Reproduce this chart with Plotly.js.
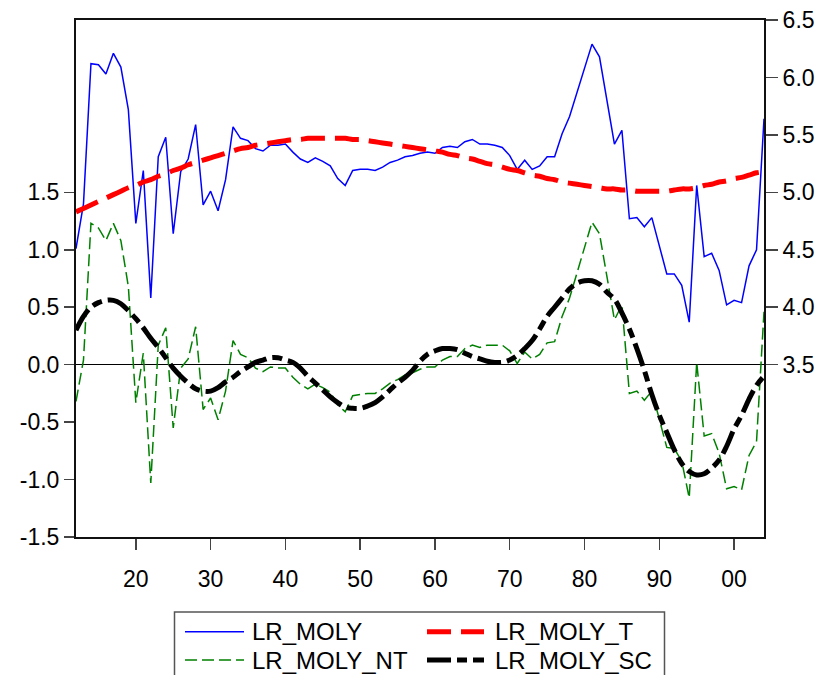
<!DOCTYPE html>
<html>
<head>
<meta charset="utf-8">
<script src="https://cdn.plot.ly/plotly-3.0.1.min.js"></script>
<style>html,body{margin:0;padding:0;background:#fff;}#chart{width:821px;height:675px;}</style>
</head>
<body>
<div id="chart"></div>
<script>
var years = [1912,1913,1914,1915,1916,1917,1918,1919,1920,1921,1922,1923,1924,1925,1926,1927,1928,1929,1930,1931,
  1932,1933,1934,1935,1936,1937,1938,1939,1940,1941,1942,1943,1944,1945,1946,1947,1948,1949,1950,1951,
  1952,1953,1954,1955,1956,1957,1958,1959,1960,1961,1962,1963,1964,1965,1966,1967,1968,1969,1970,1971,
  1972,1973,1974,1975,1976,1977,1978,1979,1980,1981,1982,1983,1984,1985,1986,1987,1988,1989,1990,1991,
  1992,1993,1994,1995,1996,1997,1998,1999,2000,2001,2002,2003,2004];

// LR_MOLY (right axis)
var lrMoly = [4.51,4.90,6.12,6.11,6.03,6.21,6.09,5.72,4.73,5.19,4.08,5.31,5.48,4.64,5.18,5.29,5.59,4.89,5.01,4.84,
  5.11,5.57,5.47,5.45,5.38,5.36,5.41,5.41,5.42,5.35,5.29,5.26,5.30,5.27,5.23,5.12,5.06,5.19,5.20,5.20,
  5.19,5.22,5.26,5.28,5.31,5.32,5.34,5.35,5.34,5.39,5.40,5.39,5.44,5.46,5.42,5.42,5.41,5.39,5.32,5.20,
  5.28,5.20,5.23,5.31,5.31,5.51,5.66,5.87,6.07,6.29,6.18,5.80,5.42,5.54,4.77,4.78,4.70,4.78,4.54,4.29,
  4.29,4.19,3.87,5.06,4.44,4.47,4.32,4.02,4.06,4.04,4.36,4.50,5.64];

// LR_MOLY_T (right axis)
var lrMolyT = [4.83,4.86,4.89,4.92,4.95,4.98,5.01,5.04,5.06,5.09,5.11,5.14,5.16,5.19,5.21,5.24,5.26,5.28,5.30,5.32,
  5.34,5.36,5.38,5.39,5.41,5.42,5.43,5.44,5.45,5.46,5.46,5.47,5.47,5.47,5.47,5.47,5.47,5.46,5.46,5.45,
  5.44,5.43,5.42,5.41,5.40,5.39,5.38,5.37,5.36,5.35,5.33,5.32,5.30,5.29,5.27,5.25,5.24,5.22,5.20,5.19,
  5.17,5.15,5.14,5.12,5.11,5.09,5.08,5.07,5.06,5.05,5.04,5.03,5.03,5.02,5.02,5.01,5.01,5.01,5.01,5.01,
  5.02,5.03,5.03,5.04,5.06,5.07,5.09,5.10,5.12,5.13,5.15,5.17,5.18];

// LR_MOLY_NT (left axis)
var lrMolyNT = [-0.32,0.04,1.23,1.19,1.08,1.23,1.08,0.68,-0.33,0.10,-1.03,0.17,0.32,-0.55,-0.03,0.05,0.33,-0.39,-0.29,-0.48,
  -0.23,0.21,0.09,0.06,-0.03,-0.06,-0.02,-0.03,-0.03,-0.11,-0.17,-0.21,-0.17,-0.20,-0.24,-0.35,-0.41,-0.27,-0.26,-0.25,
  -0.25,-0.21,-0.16,-0.13,-0.09,-0.07,-0.04,-0.02,-0.02,0.04,0.07,0.07,0.14,0.17,0.15,0.17,0.17,0.17,0.12,0.01,
  0.11,0.05,0.09,0.19,0.20,0.42,0.58,0.80,1.01,1.24,1.14,0.77,0.39,0.52,-0.25,-0.23,-0.31,-0.23,-0.47,-0.72,
  -0.73,-0.84,-1.16,0.02,-0.62,-0.60,-0.77,-1.08,-1.06,-1.09,-0.79,-0.67,0.46];

// LR_MOLY_SC (left axis)
var lrMolySC = [0.30,0.42,0.50,0.54,0.56,0.56,0.53,0.47,0.40,0.32,0.23,0.15,0.06,-0.03,-0.10,-0.16,-0.21,-0.23,-0.23,-0.20,
  -0.15,-0.11,-0.06,-0.02,0.02,0.04,0.06,0.06,0.04,0.02,-0.03,-0.10,-0.16,-0.22,-0.28,-0.33,-0.37,-0.38,-0.38,-0.36,
  -0.33,-0.28,-0.22,-0.16,-0.11,-0.05,0.03,0.09,0.12,0.14,0.14,0.13,0.10,0.07,0.05,0.03,0.02,0.02,0.04,0.08,
  0.14,0.21,0.31,0.42,0.50,0.58,0.66,0.71,0.73,0.73,0.70,0.63,0.57,0.45,0.31,0.14,-0.05,-0.26,-0.44,-0.59,
  -0.74,-0.86,-0.93,-0.96,-0.95,-0.90,-0.83,-0.71,-0.56,-0.44,-0.30,-0.18,-0.10];

var xTickVals = [1920,1930,1940,1950,1960,1970,1980,1990,2000];
var xTickText = ["20","30","40","50","60","70","80","90","00"];
var yLeftTickVals = [-1.5,-1.0,-0.5,0.0,0.5,1.0,1.5];
var yLeftTickText = ["-1.5","-1.0","-0.5","0.0","0.5","1.0","1.5"];
var yRightTickVals = [3.5,4.0,4.5,5.0,5.5,6.0,6.5];
var yRightTickText = ["3.5","4.0","4.5","5.0","5.5","6.0","6.5"];

var seriesNames = ["LR_MOLY","LR_MOLY_T","LR_MOLY_NT","LR_MOLY_SC"];
var seriesColors = ["#0000ff","#ff0000","#008000","#000000"];
var seriesDash = ["solid","24px,10px","12px,5px","24px,6px,10px,6px"];
var seriesWidth = [1.5,5,1.5,5];

var traces = [
  {x: years, y: lrMolyNT, yaxis: "y", name: seriesNames[2], mode: "lines",
   line: {color: seriesColors[2], width: seriesWidth[2], dash: seriesDash[2]}},
  {x: years, y: lrMolySC, yaxis: "y", name: seriesNames[3], mode: "lines",
   line: {color: seriesColors[3], width: seriesWidth[3], dash: seriesDash[3], shape: "spline"}},
  {x: years, y: lrMoly, yaxis: "y2", name: seriesNames[0], mode: "lines",
   line: {color: seriesColors[0], width: seriesWidth[0], dash: seriesDash[0]}},
  {x: years, y: lrMolyT, yaxis: "y2", name: seriesNames[1], mode: "lines",
   line: {color: seriesColors[1], width: seriesWidth[1], dash: seriesDash[1], shape: "spline"}}
];

var fontFam = "Liberation Sans, Arial, sans-serif";
var tickFont = {family: fontFam, size: 23, color: "#000"};

// custom legend (paper coordinates)
var W = 688, H = 517, L = 76, T = 20;
function px(x){ return (x - L) / W; }
function py(y){ return (T + H - y) / H; }

var legRows = [631.7, 631.7, 660, 660];
var legX0 = [185, 427, 185, 427];
var legX1 = [244, 484, 244, 484];
var legTx = [250, 493, 250, 493];
var legOrder = [0, 1, 2, 3];

var shapes = [
  {type: "rect", xref: "paper", yref: "paper", x0: px(174.5), x1: px(664.5), y0: py(690), y1: py(612),
   line: {color: "#555", width: 1.5}, fillcolor: "rgba(0,0,0,0)"}
];
var annotations = [];
for (var i = 0; i < 4; i++) {
  var k = legOrder[i];
  shapes.push({type: "line", xref: "paper", yref: "paper",
    x0: px(legX0[i]), x1: px(legX1[i]), y0: py(legRows[i]), y1: py(legRows[i]),
    line: {color: seriesColors[k], width: (seriesWidth[k] > 2 ? 5 : 1.5), dash: seriesDash[k]}});
  annotations.push({xref: "paper", yref: "paper", x: px(legTx[i]), y: py(legRows[i]),
    xanchor: "left", yanchor: "middle", showarrow: false, text: seriesNames[k],
    font: {family: fontFam, size: 24, color: "#000"}});
}

var layout = {
  width: 821, height: 675,
  margin: {l: 76, r: 57, t: 20, b: 138, pad: 0},
  paper_bgcolor: "#fff", plot_bgcolor: "#fff",
  showlegend: false,
  font: {family: fontFam, size: 23, color: "#000"},
  xaxis: {
    range: [1912, 2004], tickmode: "array", tickvals: xTickVals, ticktext: xTickText,
    showgrid: false, zeroline: false, showline: true, mirror: true, linecolor: "#111", linewidth: 2,
    ticks: "outside", ticklen: 11, tickwidth: 1.5, tickcolor: "#444", tickfont: tickFont,
    ticklabelstandoff: 9
  },
  yaxis: {
    range: [-1.5, 3.0], tickmode: "array", tickvals: yLeftTickVals, ticktext: yLeftTickText,
    showgrid: false, zeroline: true, zerolinecolor: "#000", zerolinewidth: 1,
    showline: true, mirror: true, linecolor: "#111", linewidth: 2,
    ticks: "outside", ticklen: 10, tickwidth: 1.5, tickcolor: "#444", tickfont: tickFont
  },
  yaxis2: {
    range: [2.0, 6.5], overlaying: "y", side: "right", tickmode: "array",
    tickvals: yRightTickVals, ticktext: yRightTickText,
    showgrid: false, zeroline: false, showline: true, linecolor: "#111", linewidth: 2,
    ticks: "outside", ticklen: 12, tickwidth: 1.5, tickcolor: "#444", tickfont: tickFont
  },
  shapes: shapes,
  annotations: annotations
};

Plotly.newPlot("chart", traces, layout, {displayModeBar: false, staticPlot: true});
</script>
</body>
</html>
